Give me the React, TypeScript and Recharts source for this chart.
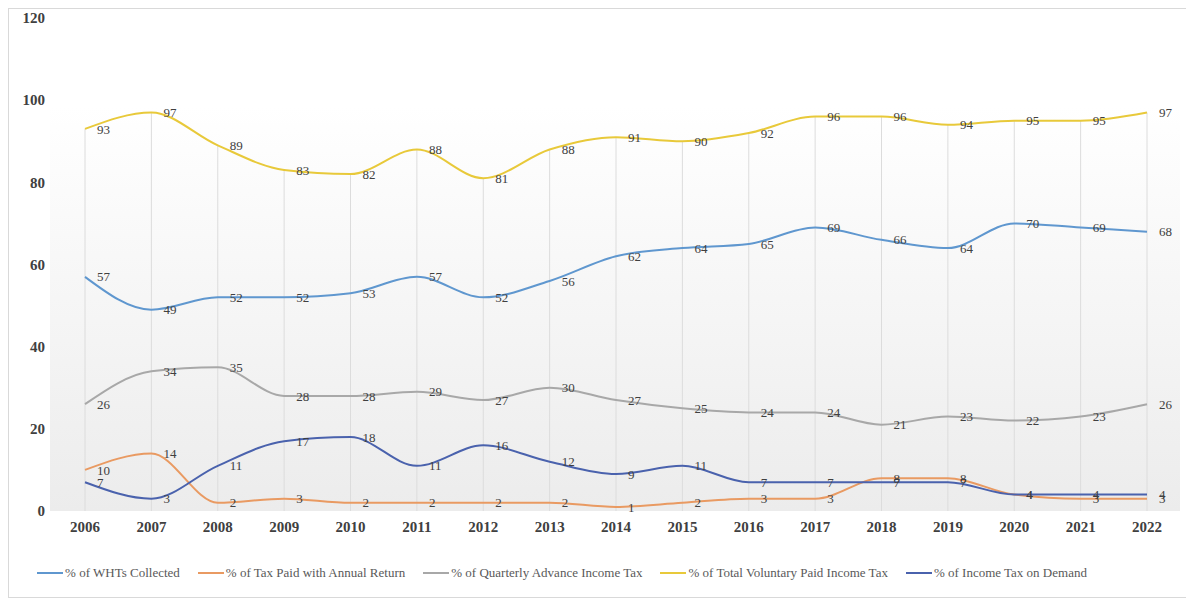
import {
  LineChart,
  Line,
  XAxis,
  YAxis,
  CartesianGrid,
  Legend,
  LabelList,
  ReferenceLine,
} from 'recharts';

const years = [
  '2006', '2007', '2008', '2009', '2010', '2011', '2012', '2013', '2014',
  '2015', '2016', '2017', '2018', '2019', '2020', '2021', '2022',
];

const whtsCollected = [57, 49, 52, 52, 53, 57, 52, 56, 62, 64, 65, 69, 66, 64, 70, 69, 68];
const taxAnnualReturn = [10, 14, 2, 3, 2, 2, 2, 2, 1, 2, 3, 3, 8, 8, 4, 3, 3];
const quarterlyAdvance = [26, 34, 35, 28, 28, 29, 27, 30, 27, 25, 24, 24, 21, 23, 22, 23, 26];
const totalVoluntary = [93, 97, 89, 83, 82, 88, 81, 88, 91, 90, 92, 96, 96, 94, 95, 95, 97];
const taxOnDemand = [7, 3, 11, 17, 18, 11, 16, 12, 9, 11, 7, 7, 7, 7, 4, 4, 4];

const yTicks = [0, 20, 40, 60, 80, 100, 120];

const SERIF = "'Times New Roman', 'Liberation Serif', serif";

const series = [
  { key: 'wht', name: '% of WHTs Collected', color: '#5f97cf' },
  { key: 'annual', name: '% of Tax Paid with Annual Return', color: '#e99a62' },
  { key: 'quarterly', name: '% of Quarterly Advance Income Tax', color: '#a8a8a8' },
  { key: 'voluntary', name: '% of Total Voluntary Paid Income Tax', color: '#e8c93a' },
  { key: 'demand', name: '% of Income Tax on Demand', color: '#4a62ad' },
];

const data = years.map((year, i) => ({
  year,
  wht: whtsCollected[i],
  annual: taxAnnualReturn[i],
  quarterly: quarterlyAdvance[i],
  voluntary: totalVoluntary[i],
  demand: taxOnDemand[i],
}));

// legend kept in series order (recharts sorts it by name otherwise)
function SeriesLegend() {
  return (
    <div
      style={{
        display: 'flex',
        justifyContent: 'center',
        alignItems: 'center',
        gap: 18,
        fontFamily: SERIF,
        fontSize: 13,
        color: '#595959',
      }}
    >
      {series.map((s) => (
        <span key={s.key} style={{ display: 'flex', alignItems: 'center' }}>
          <span
            style={{
              display: 'inline-block',
              width: 26,
              height: 2,
              background: s.color,
              marginRight: 2,
            }}
          />
          {s.name}
        </span>
      ))}
    </div>
  );
}

export default function App() {
  return (
    <div
      style={{
        width: 1178,
        height: 588,
        border: '1px solid #d9d9d9',
        background: '#fff',
        fontFamily: SERIF,
      }}
    >
      <LineChart
        width={1178}
        height={588}
        data={data}
        margin={{ top: 9, right: 7, bottom: 10, left: 5 }}
      >
        <defs>
          <linearGradient id="plotBg" x1="0" y1="0" x2="0" y2="1">
            <stop offset="0%" stopColor="#ffffff" />
            <stop offset="18%" stopColor="#ffffff" />
            <stop offset="100%" stopColor="#ececec" />
          </linearGradient>
        </defs>
        <CartesianGrid horizontal={false} vertical={false} fill="url(#plotBg)" />
        {/* drop lines from the top series down to the axis */}
        {years.map((y, i) => (
          <ReferenceLine
            key={y}
            segment={[
              { x: y, y: 0 },
              { x: y, y: totalVoluntary[i] },
            ]}
            stroke="#dcdcdc"
            strokeWidth={1}
          />
        ))}
        <XAxis
          dataKey="year"
          height={30}
          padding={{ left: 35, right: 33 }}
          axisLine={false}
          tickLine={false}
          tickSize={0}
          tickMargin={10}
          tick={{ fill: '#404040', fontSize: 15, fontWeight: 'bold', fontFamily: SERIF }}
        />
        <YAxis
          domain={[0, 120]}
          ticks={yTicks}
          width={36}
          axisLine={false}
          tickLine={false}
          tickSize={0}
          tickMargin={5}
          tick={{ fill: '#404040', fontSize: 15, fontWeight: 'bold', fontFamily: SERIF }}
        />
        <Legend
          verticalAlign="bottom"
          height={46}
          content={<SeriesLegend />}
          wrapperStyle={{ top: 556, left: 0, width: 1106 }}
        />
        {series.map((s) => (
          <Line
            key={s.key}
            dataKey={s.key}
            name={s.name}
            type="monotone"
            stroke={s.color}
            strokeWidth={2}
            dot={false}
            activeDot={false}
            isAnimationActive={false}
          >
            <LabelList
              dataKey={s.key}
              position="right"
              offset={12}
              fill="#404040"
              fontSize={13}
              fontFamily={SERIF}
            />
          </Line>
        ))}
      </LineChart>
    </div>
  );
}
